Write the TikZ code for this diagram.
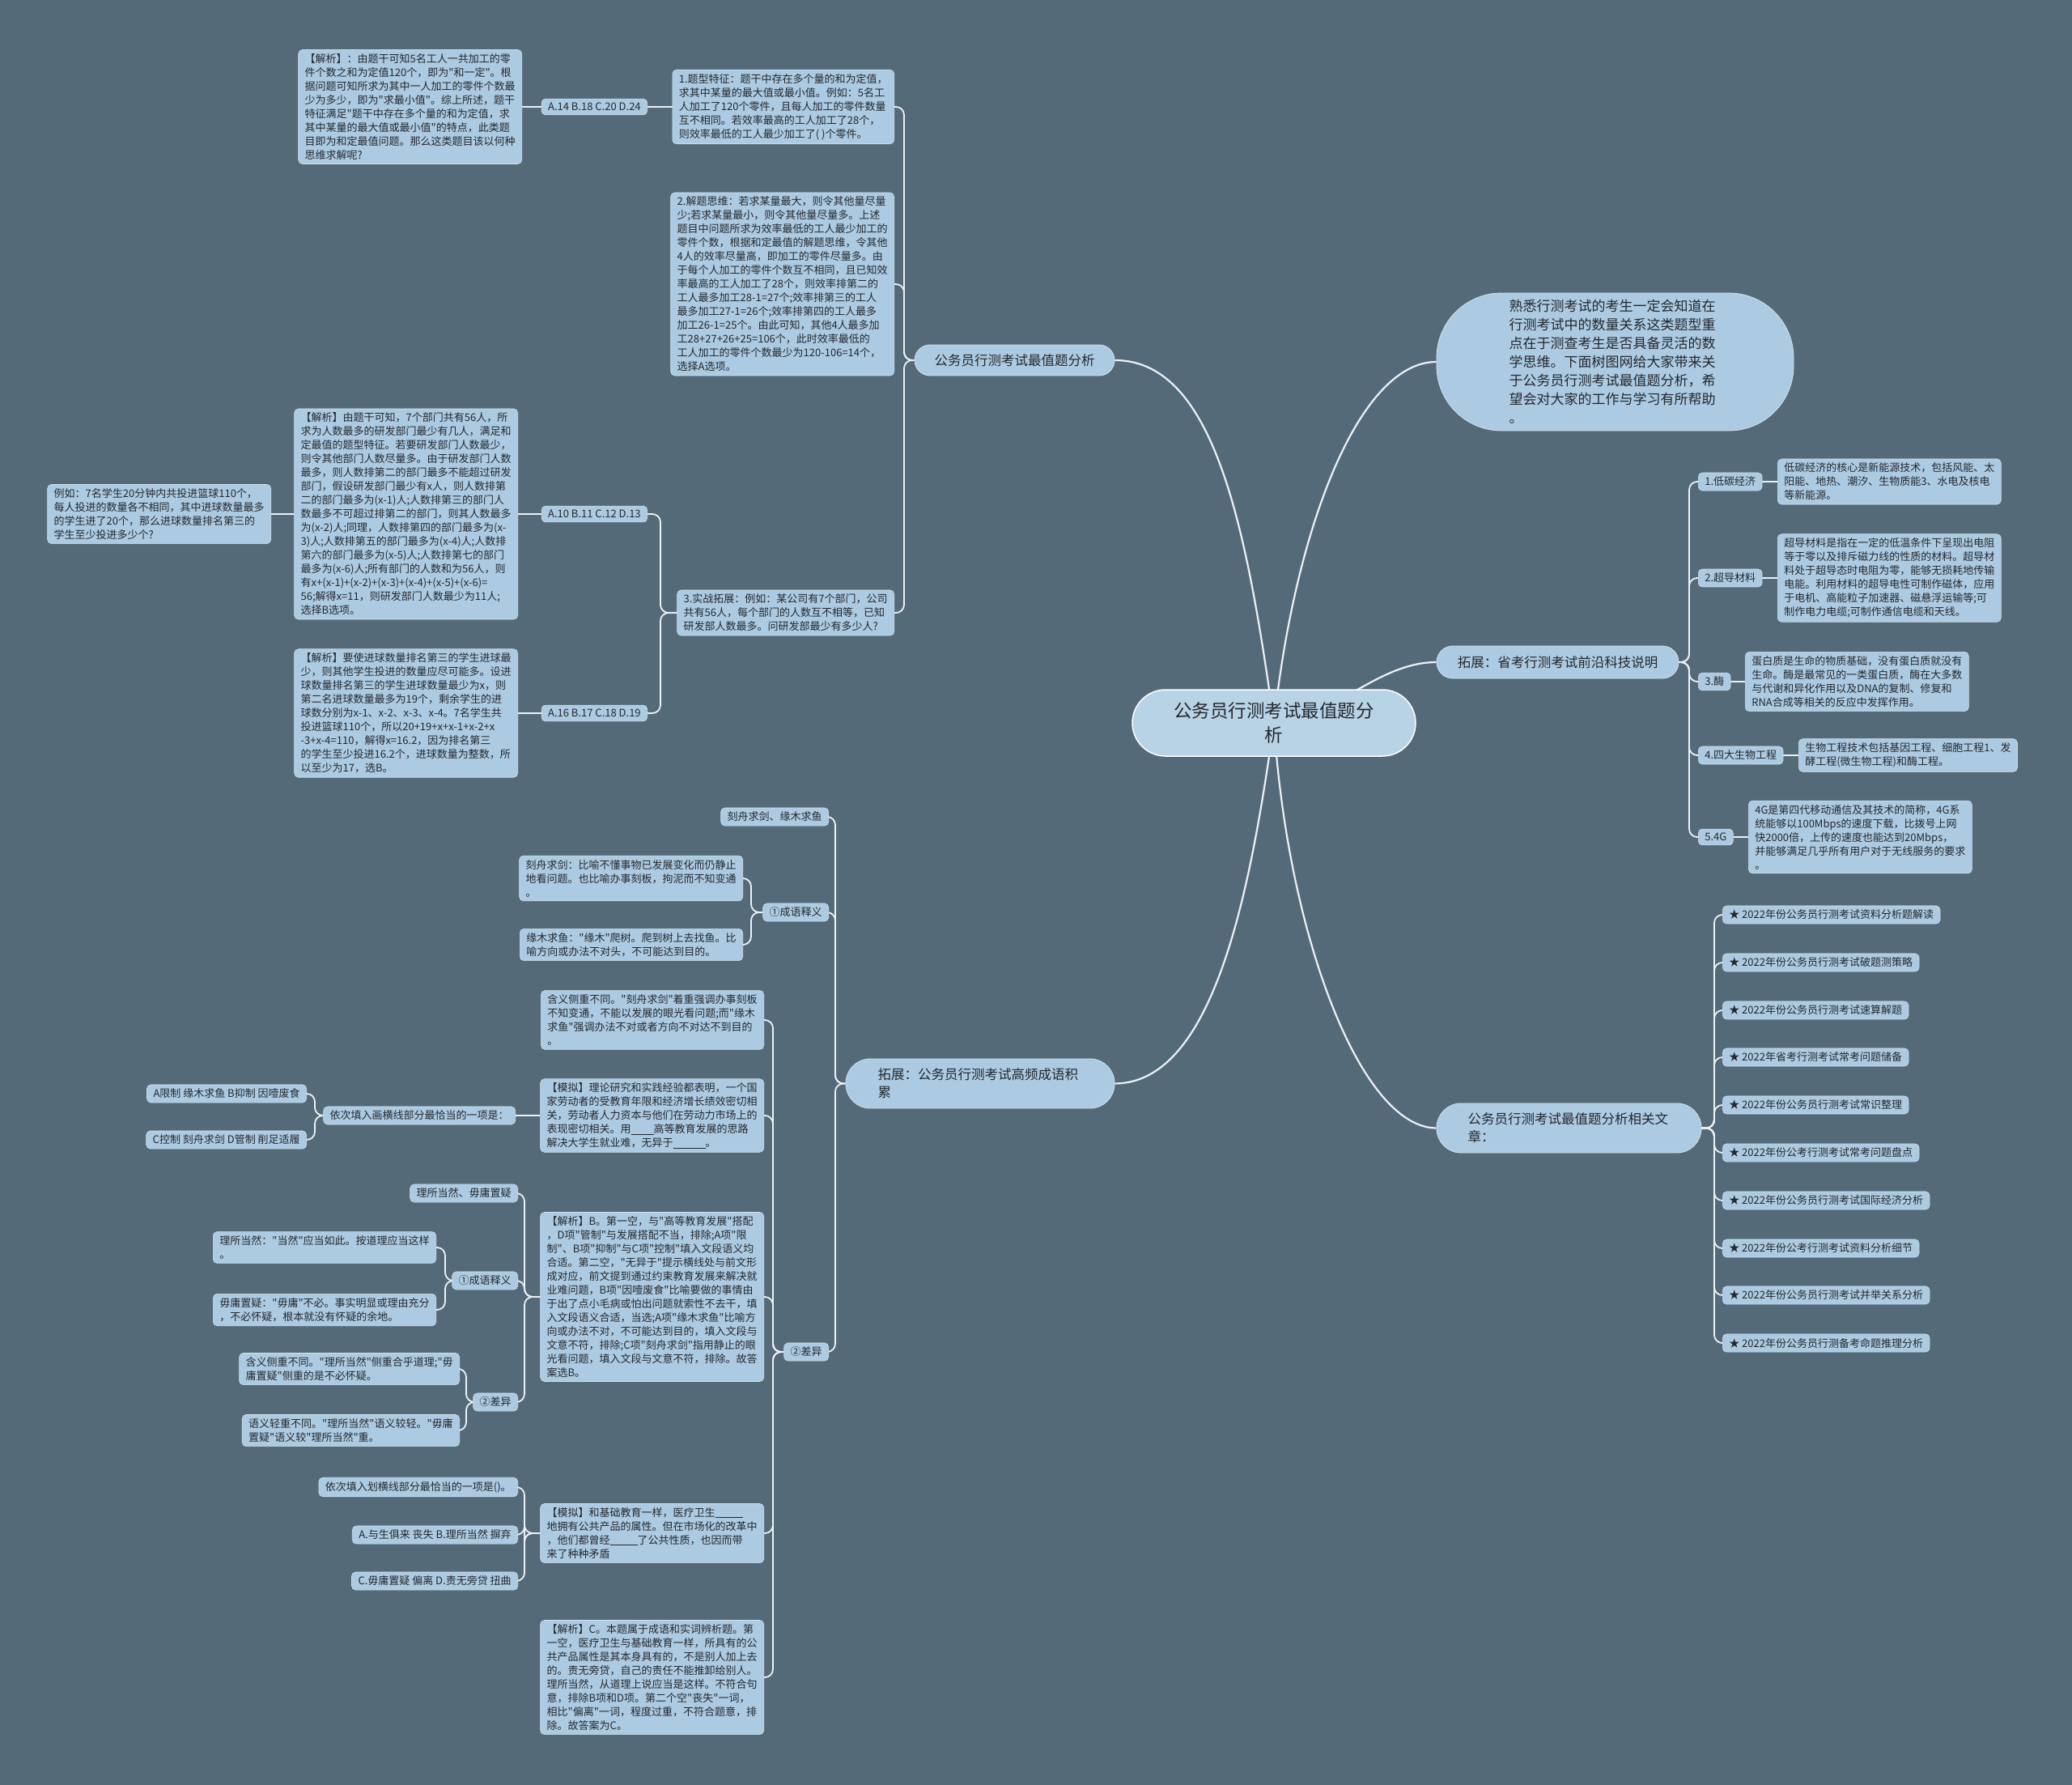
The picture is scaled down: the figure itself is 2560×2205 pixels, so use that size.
\documentclass[tikz,border=0pt]{standalone}
\usepackage{fontspec}
\setmainfont{Noto Sans CJK SC}[Ligatures=TeXOff]
\usetikzlibrary{calc}
\definecolor{bg}{RGB}{85,106,121}
\definecolor{nb}{RGB}{172,202,225}
\definecolor{tx}{RGB}{36,40,46}
\definecolor{ln}{RGB}{236,241,245}
\newcommand\blank[1]{\rule[-1.5pt]{#1}{0.6pt}}
\newcommand\lel[3]{\draw[conn] (#1.west) -- (#2,0 |- #1.west) |- (#3.east);}
\newcommand\rel[3]{\draw[conn] (#1.east) -- (#2,0 |- #1.east) |- (#3.west);}
\pgfdeclarelayer{back}
\pgfdeclarelayer{lines}
\pgfsetlayers{back,lines,main}
\begin{document}
\begin{tikzpicture}[x=1pt,y=-1pt,
  box/.style={draw=nb!55!white, line width=0.6pt, fill=nb, rounded corners=5pt, align=left,
    inner xsep=8pt, inner ysep=5pt, text=tx, font=\fontsize{13}{17}\selectfont},
  pill/.style={draw=nb!55!white, line width=0.8pt, fill=nb, text=tx, inner sep=0pt,
    font=\fontsize{16.5}{22}\selectfont},
  conn/.style={draw=ln, line width=1.8pt, rounded corners=10pt},
  curv/.style={draw=ln, line width=2.2pt},
]
\begin{pgfonlayer}{back}
\fill[bg] (0,0) rectangle (2560,2205);
\end{pgfonlayer}
\useasboundingbox (0,0) rectangle (2560,2205);

% ---------- root and main branches ----------
\node[pill, minimum width=350pt, minimum height=82pt, rounded corners=41pt, align=center,
  fill=nb!85!white, draw=white, line width=1.5pt, font=\fontsize{22.5}{30}\selectfont]
  (root) at (1574,893) {公务员行测考试最值题分\\析};
\node[pill, minimum width=247pt, minimum height=38pt, rounded corners=19pt]
  (b1) at (1253.5,445) {公务员行测考试最值题分析};
\node[pill, minimum width=332pt, minimum height=61pt, rounded corners=30pt, text width=253pt, align=left]
  (b2) at (1211,1338.5) {拓展：公务员行测考试高频成语积\\累};
\node[pill, minimum width=441pt, minimum height=170pt, rounded corners=80pt, text width=262pt, align=left,
  font=\fontsize{17}{23}\selectfont]
  (b3) at (1995.5,447) {熟悉行测考试的考生一定会知道在\\行测考试中的数量关系这类题型重\\点在于测查考生是否具备灵活的数\\学思维。下面树图网给大家带来关\\于公务员行测考试最值题分析，希\\望会对大家的工作与学习有所帮助\\。};
\node[pill, minimum width=299pt, minimum height=40pt, rounded corners=20pt]
  (b4) at (1924.5,818) {拓展：省考行测考试前沿科技说明};
\node[pill, minimum width=327pt, minimum height=61pt, rounded corners=30pt, text width=250pt, align=left]
  (b5) at (1938.5,1393.5) {公务员行测考试最值题分析相关文\\章：};

% ---------- branch 1 ----------
\node[box, anchor=east] (c1) at (1105,132) {1.题型特征：题干中存在多个量的和为定值，\\求其中某量的最大值或最小值。例如：5名工\\人加工了120个零件，且每人加工的零件数量\\互不相同。若效率最高的工人加工了28个，\\则效率最低的工人最少加工了( )个零件。};
\node[box, anchor=east] (a14) at (800,132) {A.14 B.18 C.20 D.24};
\node[box, anchor=east] (j1) at (645,132) {【解析】：由题干可知5名工人一共加工的零\\件个数之和为定值120个，即为"和一定"。根\\据问题可知所求为其中一人加工的零件个数最\\少为多少，即为"求最小值"。综上所述，题干\\特征满足"题干中存在多个量的和为定值，求\\其中某量的最大值或最小值"的特点，此类题\\目即为和定最值问题。那么这类题目该以何种\\思维求解呢?};
\node[box, anchor=east] (c2) at (1105,351) {2.解题思维：若求某量最大，则令其他量尽量\\少;若求某量最小，则令其他量尽量多。上述\\题目中问题所求为效率最低的工人最少加工的\\零件个数，根据和定最值的解题思维，令其他\\4人的效率尽量高，即加工的零件尽量多。由\\于每个人加工的零件个数互不相同，且已知效\\率最高的工人加工了28个，则效率排第二的\\工人最多加工28-1=27个;效率排第三的工人\\最多加工27-1=26个;效率排第四的工人最多\\加工26-1=25个。由此可知，其他4人最多加\\工28+27+26+25=106个，此时效率最低的\\工人加工的零件个数最少为120-106=14个，\\选择A选项。};
\node[box, anchor=east] (c3) at (1105,757) {3.实战拓展：例如：某公司有7个部门，公司\\共有56人，每个部门的人数互不相等，已知\\研发部人数最多。问研发部最少有多少人?};
\node[box, anchor=east] (a10) at (800,635) {A.10 B.11 C.12 D.13};
\node[box, anchor=east] (j2) at (640,635) {【解析】由题干可知，7个部门共有56人，所\\求为人数最多的研发部门最少有几人，满足和\\定最值的题型特征。若要研发部门人数最少，\\则令其他部门人数尽量多。由于研发部门人数\\最多，则人数排第二的部门最多不能超过研发\\部门，假设研发部门最少有x人，则人数排第\\二的部门最多为(x-1)人;人数排第三的部门人\\数最多不可超过排第二的部门，则其人数最多\\为(x-2)人;同理，人数排第四的部门最多为(x-\\3)人;人数排第五的部门最多为(x-4)人;人数排\\第六的部门最多为(x-5)人;人数排第七的部门\\最多为(x-6)人;所有部门的人数和为56人，则\\有x+(x-1)+(x-2)+(x-3)+(x-4)+(x-5)+(x-6)=\\56;解得x=11，则研发部门人数最少为11人;\\选择B选项。};
\node[box, anchor=east] (eg) at (335,635) {例如：7名学生20分钟内共投进篮球110个，\\每人投进的数量各不相同，其中进球数量最多\\的学生进了20个，那么进球数量排名第三的\\学生至少投进多少个?};
\node[box, anchor=east] (a16) at (800,881) {A.16 B.17 C.18 D.19};
\node[box, anchor=east] (j3) at (640,881) {【解析】要使进球数量排名第三的学生进球最\\少，则其他学生投进的数量应尽可能多。设进\\球数量排名第三的学生进球数量最少为x，则\\第二名进球数量最多为19个，剩余学生的进\\球数分别为x-1、x-2、x-3、x-4。7名学生共\\投进篮球110个，所以20+19+x+x-1+x-2+x\\-3+x-4=110，解得x=16.2，因为排名第三\\的学生至少投进16.2个，进球数量为整数，所\\以至少为17，选B。};

% ---------- branch 2 ----------
\node[box, anchor=east] (d1) at (1024,1009) {刻舟求剑、缘木求鱼};
\node[box, anchor=east] (d2) at (1024,1127) {①成语释义};
\node[box, anchor=east] (d3) at (1024,1670) {②差异};
\node[box, anchor=east] (k1) at (918,1085) {刻舟求剑：比喻不懂事物已发展变化而仍静止\\地看问题。也比喻办事刻板，拘泥而不知变通\\。};
\node[box, anchor=east] (k2) at (918,1167) {缘木求鱼："缘木"爬树。爬到树上去找鱼。比\\喻方向或办法不对头，不可能达到目的。};
\node[box, anchor=east] (e1) at (944,1260) {含义侧重不同。"刻舟求剑"着重强调办事刻板\\不知变通，不能以发展的眼光看问题;而"缘木\\求鱼"强调办法不对或者方向不对达不到目的\\。};
\node[box, anchor=east] (e2) at (944,1378) {【模拟】理论研究和实践经验都表明，一个国\\家劳动者的受教育年限和经济增长绩效密切相\\关，劳动者人力资本与他们在劳动力市场上的\\表现密切相关。用\blank{28pt}高等教育发展的思路\\解决大学生就业难，无异于\blank{40pt}。};
\node[box, anchor=east] (yc) at (637,1378) {依次填入画横线部分最恰当的一项是：};
\node[box, anchor=east] (oa) at (379,1351) {A限制 缘木求鱼 B抑制 因噎废食};
\node[box, anchor=east] (oc) at (379,1408) {C控制 刻舟求剑 D管制 削足适履};
\node[box, anchor=east] (e3) at (944,1602) {【解析】B。第一空，与"高等教育发展"搭配\\，D项"管制"与发展搭配不当，排除;A项"限\\制"、B项"抑制"与C项"控制"填入文段语义均\\合适。第二空，"无异于"提示横线处与前文形\\成对应，前文提到通过约束教育发展来解决就\\业难问题，B项"因噎废食"比喻要做的事情由\\于出了点小毛病或怕出问题就索性不去干，填\\入文段语义合适，当选;A项"缘木求鱼"比喻方\\向或办法不对，不可能达到目的，填入文段与\\文意不符，排除;C项"刻舟求剑"指用静止的眼\\光看问题，填入文段与文意不符，排除。故答\\案选B。};
\node[box, anchor=east] (f1) at (640,1474) {理所当然、毋庸置疑};
\node[box, anchor=east] (f2) at (640,1582) {①成语释义};
\node[box, anchor=east] (f3) at (640,1732) {②差异};
\node[box, anchor=east] (g1) at (539,1541) {理所当然："当然"应当如此。按道理应当这样\\。};
\node[box, anchor=east] (g2) at (539,1618) {毋庸置疑："毋庸"不必。事实明显或理由充分\\，不必怀疑，根本就没有怀疑的余地。};
\node[box, anchor=east] (h1) at (568,1691) {含义侧重不同。"理所当然"侧重合乎道理;"毋\\庸置疑"侧重的是不必怀疑。};
\node[box, anchor=east] (h2) at (568,1767) {语义轻重不同。"理所当然"语义较轻。"毋庸\\置疑"语义较"理所当然"重。};
\node[box, anchor=east] (e4) at (944,1894) {【模拟】和基础教育一样，医疗卫生\blank{34pt}\\地拥有公共产品的属性。但在市场化的改革中\\，他们都曾经\blank{34pt}了公共性质，也因而带\\来了种种矛盾};
\node[box, anchor=east] (p1) at (640,1837) {依次填入划横线部分最恰当的一项是()。};
\node[box, anchor=east] (p2) at (640,1896) {A.与生俱来 丧失 B.理所当然 摒弃};
\node[box, anchor=east] (p3) at (640,1953) {C.毋庸置疑 偏离 D.责无旁贷 扭曲};
\node[box, anchor=east] (e5) at (944,2072) {【解析】C。本题属于成语和实词辨析题。第\\一空，医疗卫生与基础教育一样，所具有的公\\共产品属性是其本身具有的，不是别人加上去\\的。责无旁贷，自己的责任不能推卸给别人。\\理所当然，从道理上说应当是这样。不符合句\\意，排除B项和D项。第二个空"丧失"一词，\\相比"偏离"一词，程度过重，不符合题意，排\\除。故答案为C。};

% ---------- branch 4 ----------
\node[box, anchor=west] (t1) at (2098,595) {1.低碳经济};
\node[box, anchor=west] (tt1) at (2196,595) {低碳经济的核心是新能源技术，包括风能、太\\阳能、地热、潮汐、生物质能3、水电及核电\\等新能源。};
\node[box, anchor=west] (t2) at (2098,714) {2.超导材料};
\node[box, anchor=west] (tt2) at (2196,714) {超导材料是指在一定的低温条件下呈现出电阻\\等于零以及排斥磁力线的性质的材料。超导材\\料处于超导态时电阻为零，能够无损耗地传输\\电能。利用材料的超导电性可制作磁体，应用\\于电机、高能粒子加速器、磁悬浮运输等;可\\制作电力电缆;可制作通信电缆和天线。};
\node[box, anchor=west] (t3) at (2098,842) {3.酶};
\node[box, anchor=west] (tt3) at (2156,842) {蛋白质是生命的物质基础，没有蛋白质就没有\\生命。酶是最常见的一类蛋白质，酶在大多数\\与代谢和异化作用以及DNA的复制、修复和\\RNA合成等相关的反应中发挥作用。};
\node[box, anchor=west] (t4) at (2098,933) {4.四大生物工程};
\node[box, anchor=west] (tt4) at (2222,933) {生物工程技术包括基因工程、细胞工程1、发\\酵工程(微生物工程)和酶工程。};
\node[box, anchor=west] (t5) at (2098,1034) {5.4G};
\node[box, anchor=west] (tt5) at (2160,1034) {4G是第四代移动通信及其技术的简称，4G系\\统能够以100Mbps的速度下载，比拨号上网\\快2000倍，上传的速度也能达到20Mbps，\\并能够满足几乎所有用户对于无线服务的要求\\。};

% ---------- branch 5 ----------
\node[box, anchor=west] (r1) at (2128,1130) {★ 2022年份公务员行测考试资料分析题解读};
\node[box, anchor=west] (r2) at (2128,1189) {★ 2022年份公务员行测考试破题测策略};
\node[box, anchor=west] (r3) at (2128,1248) {★ 2022年份公务员行测考试速算解题};
\node[box, anchor=west] (r4) at (2128,1306) {★ 2022年省考行测考试常考问题储备};
\node[box, anchor=west] (r5) at (2128,1365) {★ 2022年份公务员行测考试常识整理};
\node[box, anchor=west] (r6) at (2128,1424) {★ 2022年份公考行测考试常考问题盘点};
\node[box, anchor=west] (r7) at (2128,1483) {★ 2022年份公务员行测考试国际经济分析};
\node[box, anchor=west] (r8) at (2128,1542) {★ 2022年份公考行测考试资料分析细节};
\node[box, anchor=west] (r9) at (2128,1600) {★ 2022年份公务员行测考试并举关系分析};
\node[box, anchor=west] (r10) at (2128,1659) {★ 2022年份公务员行测备考命题推理分析};

% ---------- connectors ----------
\begin{pgfonlayer}{lines}
\draw[curv] (b1.east) .. controls (1500,445) and (1540,650) .. (root.center);
\draw[curv] (b2.east) .. controls (1500,1338) and (1545,1100) .. (root.center);
\draw[curv] (b3.west) .. controls (1680,447) and (1600,650) .. (root.center);
\draw[curv] (b4.west) .. controls (1700,818) and (1640,893) .. (root.center);
\draw[curv] (b5.west) .. controls (1680,1393) and (1590,1150) .. (root.center);

\lel{b1}{1117}{c1}
\lel{b1}{1117}{c2}
\lel{b1}{1117}{c3}
\draw[conn] (c1.west) -- (a14.east);
\draw[conn] (a14.west) -- (j1.east);
\lel{c3}{816}{a10}
\lel{c3}{816}{a16}
\draw[conn] (a10.west) -- (j2.east);
\draw[conn] (j2.west) -- (eg.east);
\draw[conn] (a16.west) -- (j3.east);

\lel{b2}{1032}{d1}
\lel{b2}{1032}{d2}
\lel{b2}{1032}{d3}
\lel{d2}{928}{k1}
\lel{d2}{928}{k2}
\lel{d3}{955}{e1}
\lel{d3}{955}{e2}
\lel{d3}{955}{e3}
\lel{d3}{955}{e4}
\lel{d3}{955}{e5}
\draw[conn] (e2.west) -- (yc.east);
\lel{yc}{389}{oa}
\lel{yc}{389}{oc}
\lel{e3}{648}{f1}
\lel{e3}{648}{f2}
\lel{e3}{648}{f3}
\lel{f2}{550}{g1}
\lel{f2}{550}{g2}
\lel{f3}{576}{h1}
\lel{f3}{576}{h2}
\lel{e4}{648}{p1}
\lel{e4}{648}{p2}
\lel{e4}{648}{p3}

\rel{b4}{2087}{t1}
\rel{b4}{2087}{t2}
\rel{b4}{2087}{t3}
\rel{b4}{2087}{t4}
\rel{b4}{2087}{t5}
\draw[conn] (t1.east) -- (tt1.west);
\draw[conn] (t2.east) -- (tt2.west);
\draw[conn] (t3.east) -- (tt3.west);
\draw[conn] (t4.east) -- (tt4.west);
\draw[conn] (t5.east) -- (tt5.west);

\foreach \i in {1,...,10} {\rel{b5}{2118}{r\i}}
\end{pgfonlayer}
\end{tikzpicture}
\end{document}
